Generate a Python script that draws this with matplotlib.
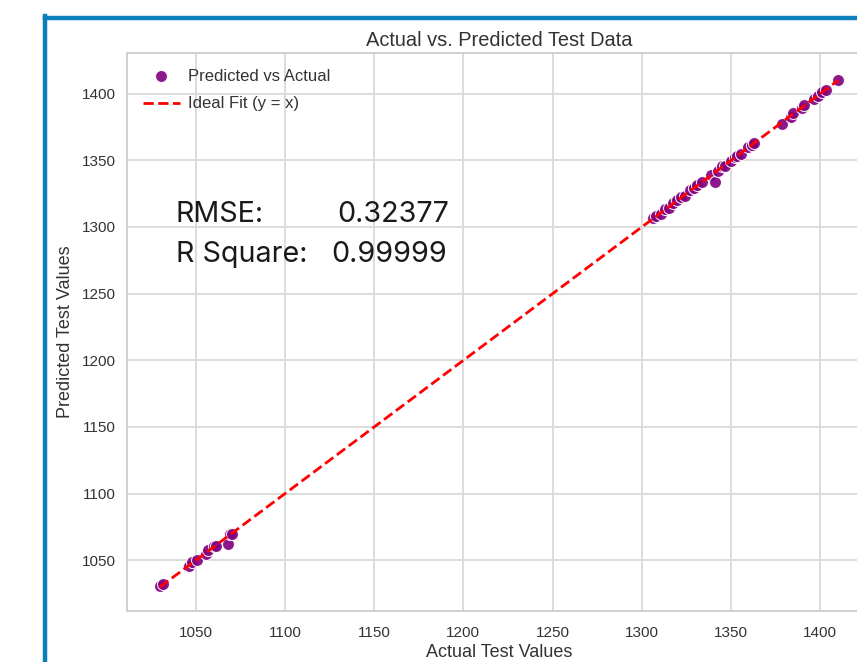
import matplotlib
matplotlib.use("Agg")
import matplotlib.pyplot as plt
import numpy as np
from matplotlib.lines import Line2D

# values
actual = [
    1030.0, 1031.5, 1046.0, 1048.0, 1050.5, 1055.5, 1057.0, 1060.0, 1061.5,
    1068.0, 1069.0, 1070.5,
    1306.5, 1308.0, 1310.5, 1313.0, 1315.0, 1317.5, 1320.0, 1322.0, 1324.0,
    1327.0, 1329.5, 1331.0, 1334.0, 1338.5, 1341.0, 1342.5, 1345.0, 1346.5,
    1350.0, 1352.0, 1353.5, 1355.5, 1359.5, 1362.0, 1363.0, 1378.5, 1383.5,
    1385.0, 1389.5, 1391.0, 1396.5, 1399.0, 1401.0, 1403.5, 1410.0,
]
predicted = [
    1030.5, 1032.0, 1045.5, 1048.5, 1050.0, 1055.0, 1057.5, 1060.5, 1061.0,
    1062.0, 1069.5, 1070.0,
    1307.0, 1308.0, 1310.0, 1313.5, 1314.5, 1318.0, 1320.0, 1322.5, 1323.5,
    1327.5, 1329.0, 1331.5, 1333.5, 1339.0, 1334.0, 1342.0, 1345.5, 1346.0,
    1349.5, 1352.5, 1353.0, 1355.0, 1360.0, 1361.5, 1363.0, 1377.5, 1382.5,
    1385.5, 1389.0, 1391.5, 1396.0, 1398.5, 1401.5, 1403.0, 1410.0,
]
rmse_text = "0.32377"
r2_text = "0.99999"

plt.rcParams["font.family"] = ["Liberation Sans", "DejaVu Sans"]

W, H = 857, 662
fig = plt.figure(figsize=(W / 100, H / 100), dpi=100)
fig.patch.set_facecolor("white")

# blue frame of the screenshot
blue = "#0b80b8"
fig.add_artist(Line2D([44.5 / W, 44.5 / W], [0, 1 - 16 / H], color=blue, lw=3.2,
                      transform=fig.transFigure, solid_capstyle="projecting"))
fig.add_artist(Line2D([44.5 / W, 1.01], [1 - 17.5 / H, 1 - 17.5 / H], color=blue,
                      lw=3.2, transform=fig.transFigure, solid_capstyle="projecting"))

# axes run past the right edge of the picture (cropped screenshot)
left, right, top, bottom = 127, 872, 53, 611
ax = fig.add_axes([left / W, 1 - bottom / H, (right - left) / W, (bottom - top) / H])
ax.set_facecolor("white")

ax.scatter(actual, predicted, s=75, color="purple", edgecolor="white",
           linewidth=0.8, alpha=0.9, label="Predicted vs Actual", zorder=3)
lo, hi = min(actual), max(actual)
ax.plot([lo, hi], [lo, hi], color="red", ls="--", lw=2, label="Ideal Fit (y = x)",
        zorder=4)

ax.set_xlim(1011.5, 1429)
ax.set_ylim(1012, 1430.5)
ax.set_xticks(np.arange(1050, 1401, 50))
ax.set_yticks(np.arange(1050, 1401, 50))

ax.grid(True, color="#dcdcdc", lw=1.4)
ax.set_axisbelow(True)
for s in ax.spines.values():
    s.set_color("#d0d0d0")
    s.set_linewidth(1.4)
ax.tick_params(length=0, labelsize=11, labelcolor="#333333")
ax.tick_params(axis="x", pad=11)
ax.tick_params(axis="y", pad=8)

ax.set_title("Actual vs. Predicted Test Data", fontsize=14.4, color="#333333", pad=5)
ax.set_xlabel("Actual Test Values", fontsize=13, color="#333333", labelpad=3)
ax.set_ylabel("Predicted Test Values", fontsize=13, color="#333333", labelpad=6)

ax.legend(loc="upper left", frameon=False, fontsize=12, labelcolor="#333333",
          borderaxespad=0.55, handlelength=2.2, handletextpad=0.5,
          labelspacing=0.75)

# metrics text box
fkw = dict(family=["Inter", "DejaVu Sans"], fontsize=20.7, color="#1a1a1a", va="center")
fig.text(176 / W, 1 - 215 / H, "RMSE:", ha="left", **fkw)
fig.text(449 / W, 1 - 215 / H, rmse_text, ha="right", **fkw)
fig.text(176 / W, 1 - 254 / H, "R Square:", ha="left", **fkw)
fig.text(447 / W, 1 - 254 / H, r2_text, ha="right", **fkw)

fig.savefig("out.png", dpi=100)
